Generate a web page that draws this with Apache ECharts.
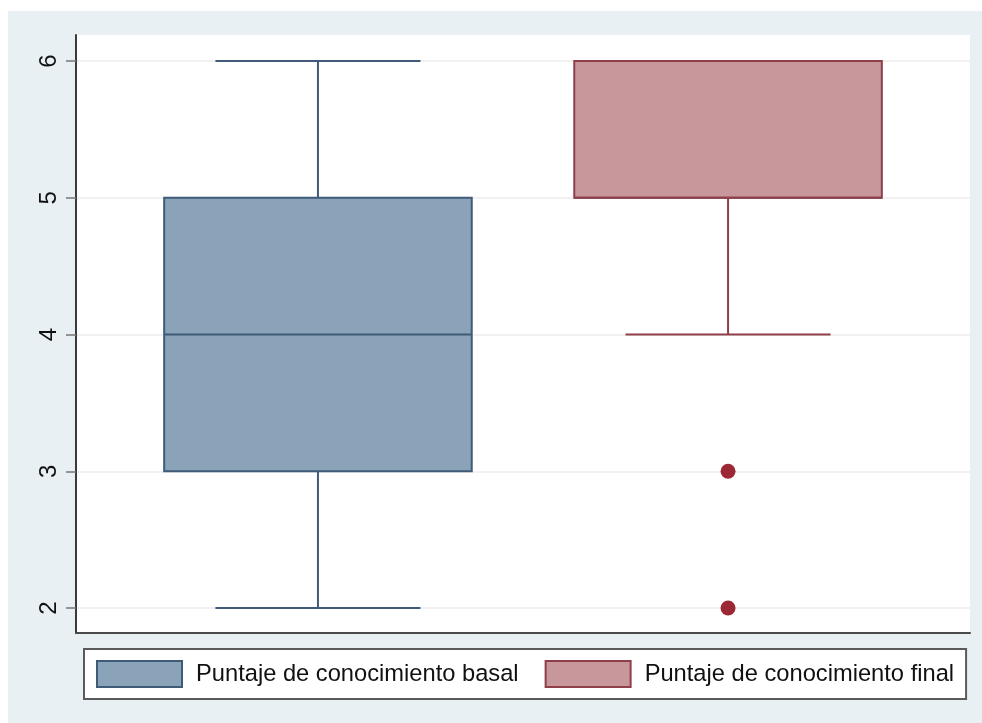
<!DOCTYPE html>
<html>
<head>
<meta charset="utf-8">
<script src="https://cdn.jsdelivr.net/npm/echarts@6/dist/echarts.min.js"></script>
<style>
  html, body { margin: 0; padding: 0; background: #ffffff; }
  #chart { width: 982px; height: 723px; }
</style>
</head>
<body>
<div id="chart"></div>
<script>
// Box plot summaries for each score
const categories = ['Puntaje de conocimiento basal', 'Puntaje de conocimiento final'];
const lowerWhisker = [2, 4];
const lowerQuartile = [3, 5];
const medians = [4, 5];
const upperQuartile = [5, 6];
const upperWhisker = [6, 6];
const outlierValues = [[], [3, 2]];
const yTicks = [2, 3, 4, 5, 6];

const fills = ['#8ba3b8', '#c8979b'];
const strokes = ['#3f5b78', '#8e3f4a'];
const outlierColor = '#9c2836';
const fontFamily = '"Liberation Sans", Arial, Helvetica, sans-serif';

// box and cap widths, in x-axis units (one unit between box centres)
const BOX_W = 0.75;
const CAP_W = 0.5;

function renderBox(idx) {
  return function (params, api) {
    const x = api.value(0);
    const pLo = api.coord([x, api.value(1)]);
    const pQ1 = api.coord([x, api.value(2)]);
    const pMed = api.coord([x, api.value(3)]);
    const pQ3 = api.coord([x, api.value(4)]);
    const pHi = api.coord([x, api.value(5)]);
    const halfBox = api.size([BOX_W, 0])[0] / 2;
    const halfCap = api.size([CAP_W, 0])[0] / 2;
    const cx = pQ1[0];
    const lineStyle = { stroke: strokes[idx], lineWidth: 2 };
    const children = [];
    if (pLo[1] !== pQ1[1]) {
      children.push({ type: 'line', shape: { x1: cx, y1: pQ1[1], x2: cx, y2: pLo[1] }, style: lineStyle });
      children.push({ type: 'line', shape: { x1: cx - halfCap, y1: pLo[1], x2: cx + halfCap, y2: pLo[1] }, style: lineStyle });
    }
    if (pHi[1] !== pQ3[1]) {
      children.push({ type: 'line', shape: { x1: cx, y1: pQ3[1], x2: cx, y2: pHi[1] }, style: lineStyle });
      children.push({ type: 'line', shape: { x1: cx - halfCap, y1: pHi[1], x2: cx + halfCap, y2: pHi[1] }, style: lineStyle });
    }
    children.push({
      type: 'rect',
      shape: { x: cx - halfBox, y: pQ3[1], width: halfBox * 2, height: pQ1[1] - pQ3[1] },
      style: { fill: fills[idx], stroke: strokes[idx], lineWidth: 2 }
    });
    children.push({ type: 'line', shape: { x1: cx - halfBox, y1: pMed[1], x2: cx + halfBox, y2: pMed[1] }, style: lineStyle });
    return { type: 'group', children: children };
  };
}

const boxSeries = categories.map(function (name, i) {
  return {
    name: name,
    type: 'custom',
    xAxisIndex: 1,
    yAxisIndex: 1,
    renderItem: renderBox(i),
    itemStyle: { color: fills[i], borderColor: strokes[i] },
    encode: { x: 0, y: [1, 2, 3, 4, 5] },
    data: [[i + 1, lowerWhisker[i], lowerQuartile[i], medians[i], upperQuartile[i], upperWhisker[i]]],
    z: 3
  };
});

const outlierData = [];
outlierValues.forEach(function (vals, i) {
  vals.forEach(function (v) { outlierData.push([i + 1, v]); });
});

const chart = echarts.init(document.getElementById('chart'), null, { renderer: 'canvas' });

chart.setOption({
  animation: false,
  backgroundColor: '#ffffff',
  graphic: [{
    type: 'rect',
    left: 8, top: 11,
    shape: { width: 974, height: 712 },
    style: { fill: '#e9f0f3' },
    z: -10
  }],
  grid: [
    // plot region frame
    { left: 76, right: 12, top: 35, bottom: 90, show: true, backgroundColor: '#ffffff', borderWidth: 0 },
    // value region from 2 to 6
    { left: 76, right: 12, top: 61, bottom: 115 }
  ],
  xAxis: [
    {
      gridIndex: 0, type: 'value', min: 0, max: 1,
      axisLine: { show: true, onZero: false, lineStyle: { color: '#4a4a4a', width: 2 } },
      axisTick: { show: false }, axisLabel: { show: false }, splitLine: { show: false }
    },
    {
      gridIndex: 1, type: 'value', min: 0.41, max: 2.59,
      axisLine: { show: false }, axisTick: { show: false }, axisLabel: { show: false }, splitLine: { show: false }
    }
  ],
  yAxis: [
    {
      gridIndex: 0, type: 'value', min: 0, max: 1,
      axisLine: { show: true, lineStyle: { color: '#3a3a3a', width: 2 } },
      axisTick: { show: false }, axisLabel: { show: false }, splitLine: { show: false }
    },
    {
      gridIndex: 1, type: 'value', min: yTicks[0], max: yTicks[yTicks.length - 1], interval: 1,
      axisLine: { show: false },
      axisTick: { show: true, length: 10, lineStyle: { color: '#777777', width: 1.5 } },
      axisLabel: { show: true, rotate: 90, margin: 15, fontSize: 24, color: '#111111', fontFamily: fontFamily },
      splitLine: { show: true, lineStyle: { color: '#ececec', width: 1.5 } }
    }
  ],
  legend: {
    left: 84, top: 649,
    orient: 'horizontal',
    padding: [11, 12, 11, 12],
    itemWidth: 85, itemHeight: 26, itemGap: 26,
    backgroundColor: '#ffffff',
    borderColor: '#5a5a5a', borderWidth: 2,
    selectedMode: false,
    textStyle: { fontSize: 23.7, color: '#111111', fontFamily: fontFamily, padding: [0, 0, 0, 9] },
    data: categories.map(function (name, i) {
      return { name: name, icon: 'rect', itemStyle: { color: fills[i], borderColor: strokes[i], borderWidth: 2 } };
    })
  },
  series: boxSeries.concat([{
    name: 'Valores atípicos',
    type: 'scatter',
    xAxisIndex: 1,
    yAxisIndex: 1,
    symbol: 'circle',
    symbolSize: 15,
    itemStyle: { color: outlierColor, opacity: 1 },
    data: outlierData,
    z: 4
  }])
});
</script>
</body>
</html>
